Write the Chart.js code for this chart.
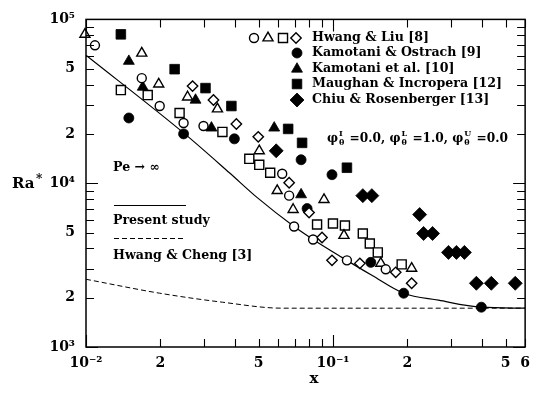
<!DOCTYPE html>
<html>
<head>
<meta charset="utf-8">
<script src="https://cdn.jsdelivr.net/npm/chart.js@4/dist/chart.umd.min.js"></script>
<style>
html, body { margin: 0; padding: 0; background: #fff; }
#wrap { width: 538px; height: 395px; }
</style>
</head>
<body>
<div id="wrap"><canvas id="chart" width="538" height="395"></canvas></div>
<script>
// Hwang & Liu [8] - the four open symbols
const openCircleX = [0.01087, 0.01682, 0.01988, 0.02484, 0.02991, 0.0623, 0.06646, 0.06961, 0.08307, 0.1139, 0.1636];
const openCircleY = [69480, 43780, 29590, 23320, 22360, 11420, 8395, 5440, 4535, 3380, 2980];
const openTriangleX = [0.0099, 0.01682, 0.0197, 0.02578, 0.03406, 0.0503, 0.05946, 0.06897, 0.092, 0.1108, 0.1562, 0.2083];
const openTriangleY = [81060, 62130, 40260, 33560, 28370, 15760, 9004, 6903, 7940, 4797, 3240, 3021];
const openSquareX = [0.01384, 0.01778, 0.02393, 0.03568, 0.04584, 0.0503, 0.0557, 0.08623, 0.1, 0.1118, 0.1321, 0.141, 0.1519, 0.1898];
const openSquareY = [37020, 34510, 26830, 20560, 14090, 12950, 11580, 5593, 5673, 5515, 4932, 4287, 3780, 3195];
const openDiamondX = [0.02701, 0.03282, 0.04063, 0.04983, 0.06646, 0.08004, 0.09031, 0.0991, 0.1285, 0.1795, 0.2083];
const openDiamondY = [39150, 32190, 22990, 19180, 10070, 6616, 4665, 3380, 3240, 2857, 2449];

// Kamotani & Ostrach [9]
const kamOstX = [0.01491, 0.02484, 0.03989, 0.0743, 0.0991, 0.07857, 0.1423, 0.1934, 0.3989];
const kamOstY = [25010, 20000, 18650, 13900, 11270, 6998, 3286, 2130, 1750];
// Kamotani et al. [10]
const kamEtAlX = [0.01491, 0.01697, 0.02777, 0.03221, 0.05783, 0.0743];
const kamEtAlY = [55560, 38610, 32190, 21750, 21750, 8514];
// Maughan & Incropera [12]
const maughanX = [0.01384, 0.02285, 0.03047, 0.03879, 0.06585, 0.07499, 0.1139];
const maughanY = [81060, 49670, 38070, 29590, 21450, 17630, 12430];
// Chiu & Rosenberger [13]
const chiuX = [0.05891, 0.1321, 0.1437, 0.2244, 0.2328, 0.2531, 0.2936, 0.3162, 0.3406, 0.3808, 0.4377, 0.5471];
const chiuY = [15760, 8395, 8395, 6433, 4932, 4932, 3780, 3780, 3780, 2449, 2449, 2449];

// Present study (solid curve) and Hwang & Cheng [3] (dashed curve)
const presentX = [0.01, 0.02484, 0.03808, 0.04937, 0.06961, 0.08307, 0.1087, 0.1437, 0.1934, 0.2676, 0.3989, 0.6];
const presentY = [60420, 20280, 11580, 8165, 5440, 4535, 3525, 2740, 2130, 1931, 1750, 1726];
const hwangChengX = [0.01, 0.01988, 0.03568, 0.0623, 0.6];
const hwangChengY = [2591, 2130, 1877, 1726, 1726];

// axis labels
const xTickValues = [0.01, 0.02, 0.05, 0.1, 0.2, 0.5, 0.6];
const xTickText = ['10\u207B\u00B2', '2', '5', '10\u207B\u00B9', '2', '5', '6'];
const yTickValues = [1000, 2000, 5000, 10000, 20000, 50000, 100000];
const yTickText = ['10\u00B3', '2', '5', '10\u2074', '2', '5', '10\u2075'];

const legendNames = ['Hwang & Liu [8]', 'Kamotani & Ostrach [9]', 'Kamotani et al. [10]', 'Maughan & Incropera [12]', 'Chiu & Rosenberger [13]'];

const FONT = '"DejaVu Serif", "Liberation Serif", serif';

function pts(xs, ys) {
    return xs.map((x, i) => ({ x: x, y: ys[i] }));
}

function markerSet(label, xs, ys, style, radius, filled) {
    return {
        type: 'scatter',
        label: label,
        data: pts(xs, ys),
        pointStyle: style,
        pointRadius: radius,
        pointHoverRadius: radius,
        pointBackgroundColor: filled ? '#000' : '#fff',
        pointBorderColor: '#000',
        pointBorderWidth: filled ? 0.8 : 1.4,
        clip: false,
        order: 1
    };
}

// draws a marker with the same geometry chart.js uses
function drawMarker(ctx, style, r, x, y, filled) {
    ctx.beginPath();
    if (style === 'circle') {
        ctx.arc(x, y, r, 0, Math.PI * 2);
    } else if (style === 'triangle') {
        for (let k = 0; k < 3; k++) {
            const a = k * 2 * Math.PI / 3;
            const px = x + Math.sin(a) * r, py = y - Math.cos(a) * r;
            if (k === 0) ctx.moveTo(px, py); else ctx.lineTo(px, py);
        }
    } else if (style === 'rect') {
        const s = r * Math.SQRT1_2;
        ctx.rect(x - s, y - s, 2 * s, 2 * s);
    } else {
        ctx.moveTo(x - r, y); ctx.lineTo(x, y - r); ctx.lineTo(x + r, y); ctx.lineTo(x, y + r);
    }
    ctx.closePath();
    ctx.fillStyle = filled ? '#000' : '#fff';
    ctx.fill();
    ctx.strokeStyle = '#000';
    ctx.lineWidth = filled ? 0.8 : 1.4;
    ctx.stroke();
}

function drawRich(ctx, x, y, parts, size) {
    parts.forEach(p => {
        if (typeof p === 'string') {
            ctx.font = 'bold ' + size + 'px ' + FONT;
            ctx.fillText(p, x, y);
            x += ctx.measureText(p).width;
        } else {
            ctx.font = 'bold ' + Math.round(size * 0.65) + 'px ' + FONT;
            ctx.fillText(p.sup, x + 1, y - size * 0.42);
            ctx.fillText(p.sub, x + 1, y + size * 0.32);
            x += Math.max(ctx.measureText(p.sup).width, ctx.measureText(p.sub).width) + 2;
        }
    });
}

// frame, inward ticks, legend and annotations
const decorations = {
    id: 'decorations',
    afterDraw(chart) {
        const ctx = chart.ctx;
        const a = chart.chartArea;
        const xs = chart.scales.x, ys = chart.scales.y;
        ctx.save();
        ctx.strokeStyle = '#000';
        ctx.lineWidth = 1.5;
        ctx.strokeRect(a.left, a.top, a.right - a.left, a.bottom - a.top);

        ctx.lineWidth = 1.1;
        ctx.beginPath();
        for (let d = -2; d <= -1; d++) {
            for (let k = 1; k <= 9; k++) {
                const v = k * Math.pow(10, d);
                if (v > 0.6001) continue;
                const px = Math.round(xs.getPixelForValue(v)) + 0.5;
                const len = k === 1 ? 12 : 8;
                ctx.moveTo(px, a.bottom); ctx.lineTo(px, a.bottom - len);
                ctx.moveTo(px, a.top); ctx.lineTo(px, a.top + len);
            }
        }
        for (let d = 3; d <= 5; d++) {
            for (let k = 1; k <= 9; k++) {
                const v = k * Math.pow(10, d);
                if (v > 100001) continue;
                const py = Math.round(ys.getPixelForValue(v)) + 0.5;
                const len = k === 1 ? 12 : 8;
                ctx.moveTo(a.left, py); ctx.lineTo(a.left + len, py);
                ctx.moveTo(a.right, py); ctx.lineTo(a.right - len, py);
            }
        }
        ctx.stroke();

        ctx.fillStyle = '#000';
        ctx.textBaseline = 'middle';
        ctx.textAlign = 'left';

        // axis titles
        ctx.font = 'bold 15px ' + FONT;
        ctx.fillText('Ra', 12, 184);
        ctx.font = 'bold 12px ' + FONT;
        ctx.fillText('*', 36, 180);
        ctx.font = 'bold 15px ' + FONT;
        ctx.textAlign = 'center';
        ctx.fillText('x', 314, 379);
        ctx.textAlign = 'left';

        // legend, upper right
        const legStyles = [['circle', 4.5], ['triangle', 5.8], ['rect', 6.4], ['rectRot', 5.2]];
        const openX = [254, 268, 283, 296];
        legStyles.forEach((s, i) => drawMarker(ctx, s[0], s[1], openX[i], 38, false));
        drawMarker(ctx, 'circle', 5, 297, 53, true);
        drawMarker(ctx, 'triangle', 6.3, 297, 69, true);
        drawMarker(ctx, 'rect', 6.8, 297, 84, true);
        drawMarker(ctx, 'rectRot', 7, 297, 100, true);
        ctx.fillStyle = '#000';
        ctx.font = 'bold 12.6px ' + FONT;
        const legY = [38, 53, 69, 84, 100];
        legendNames.forEach((n, i) => ctx.fillText(n, 312, legY[i]));

        // boundary condition note
        drawRich(ctx, 327, 139, ['\u03C6', { sup: 'I', sub: '\u03B8' }, ' =0.0, \u03C6', { sup: 'L', sub: '\u03B8' }, ' =1.0, \u03C6', { sup: 'U', sub: '\u03B8' }, ' =0.0'], 12.2);

        // left legend
        ctx.font = 'bold 12.6px ' + FONT;
        ctx.fillText('Pe \u2192 \u221E', 113, 168);
        ctx.lineWidth = 1.2;
        ctx.beginPath();
        ctx.moveTo(114, 205.5); ctx.lineTo(186, 205.5);
        ctx.stroke();
        ctx.fillText('Present study', 113, 221);
        ctx.lineWidth = 1;
        ctx.setLineDash([5, 3]);
        ctx.beginPath();
        ctx.moveTo(114, 238.5); ctx.lineTo(186, 238.5);
        ctx.stroke();
        ctx.setLineDash([]);
        ctx.fillText('Hwang & Cheng [3]', 113, 256);
        ctx.restore();
    }
};

const datasets = [
    {
        type: 'line', label: 'Present study', data: pts(presentX, presentY),
        borderColor: '#000', borderWidth: 1.2, pointRadius: 0,
        cubicInterpolationMode: 'monotone', order: 2
    },
    {
        type: 'line', label: 'Hwang & Cheng [3]', data: pts(hwangChengX, hwangChengY),
        borderColor: '#000', borderWidth: 1, borderDash: [5, 3], pointRadius: 0,
        cubicInterpolationMode: 'monotone', order: 2
    },
    markerSet('Hwang & Liu [8]', openCircleX, openCircleY, 'circle', 4.5, false),
    markerSet('Hwang & Liu [8]', openTriangleX, openTriangleY, 'triangle', 5.8, false),
    markerSet('Hwang & Liu [8]', openSquareX, openSquareY, 'rect', 6.4, false),
    markerSet('Hwang & Liu [8]', openDiamondX, openDiamondY, 'rectRot', 5.2, false),
    markerSet(legendNames[1], kamOstX, kamOstY, 'circle', 5, true),
    markerSet(legendNames[2], kamEtAlX, kamEtAlY, 'triangle', 6.3, true),
    markerSet(legendNames[3], maughanX, maughanY, 'rect', 6.8, true),
    markerSet(legendNames[4], chiuX, chiuY, 'rectRot', 7, true)
];

const tickFont = { family: FONT, size: 14, weight: 'bold' };

new Chart(document.getElementById('chart'), {
    type: 'scatter',
    data: { datasets: datasets },
    plugins: [decorations],
    options: {
        responsive: false,
        animation: false,
        layout: { padding: { left: 0, right: 11, top: 18, bottom: 0 } },
        plugins: { legend: { display: false }, tooltip: { enabled: false } },
        scales: {
            x: {
                type: 'logarithmic', min: 0.01, max: 0.6,
                afterFit: s => { s.height = 48; },
                afterBuildTicks: s => { s.ticks = xTickValues.map(v => ({ value: v })); },
                grid: { display: false, drawTicks: false },
                border: { display: false },
                ticks: {
                    autoSkip: false, maxRotation: 0, padding: 8, color: '#000', font: tickFont,
                    callback: (v, i) => xTickText[i]
                }
            },
            y: {
                type: 'logarithmic', min: 1000, max: 100000,
                afterFit: s => { s.width = 86; },
                afterBuildTicks: s => { s.ticks = yTickValues.map(v => ({ value: v })); },
                grid: { display: false, drawTicks: false },
                border: { display: false },
                ticks: {
                    autoSkip: false, padding: 11, color: '#000', font: tickFont,
                    callback: (v, i) => yTickText[i]
                }
            }
        }
    }
});
</script>
</body>
</html>
